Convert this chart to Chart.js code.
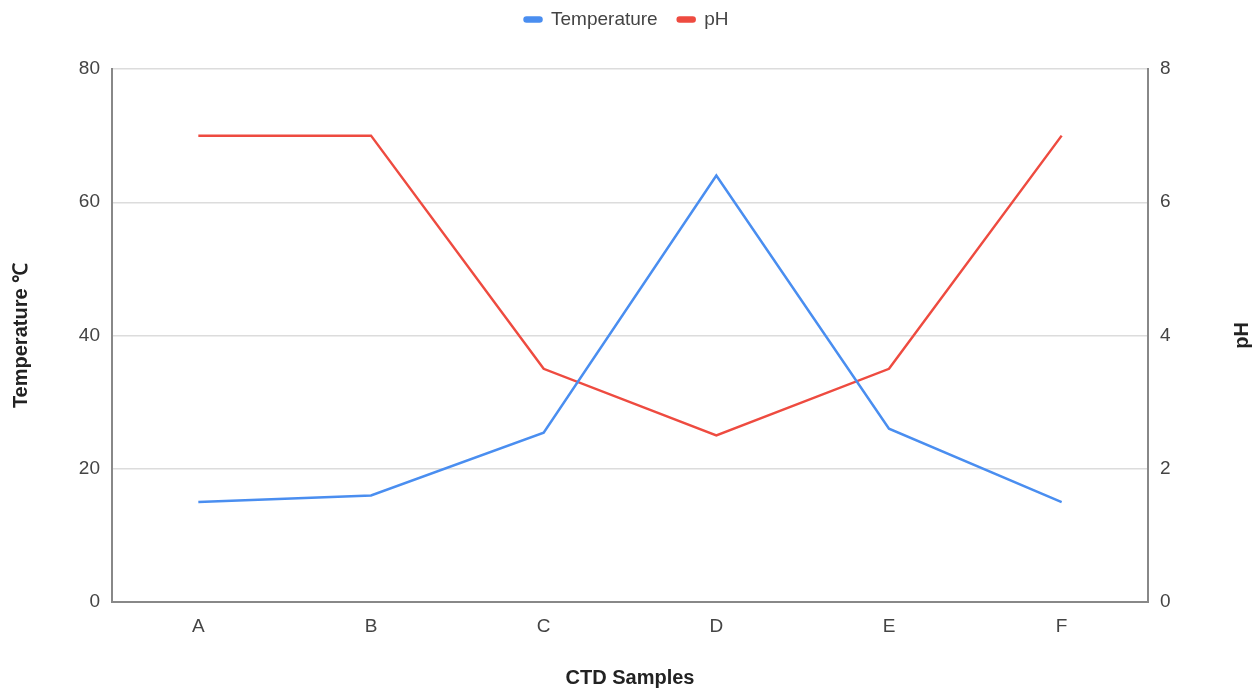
<!DOCTYPE html>
<html>
<head>
<meta charset="utf-8">
<script src="https://cdn.jsdelivr.net/npm/chart.js@4/dist/chart.umd.min.js"></script>
<style>
    html, body { margin: 0; padding: 0; background: #fff; }
    #wrap { width: 1253px; height: 690px; }
</style>
</head>
<body>
<div id="wrap"><canvas id="ctdChart"></canvas></div>
<script>
const samples = ['A', 'B', 'C', 'D', 'E', 'F'];
const temperature = [15, 16, 25.4, 64, 26, 15];
const ph = [7, 7, 3.5, 2.5, 3.5, 7];
const tempTicks = [0, 20, 40, 60, 80];
const phTicks = [0, 2, 4, 6, 8];

const blue = '#4a8ef0';
const red = '#ee4b40';
const family = '"Liberation Sans", Arial, sans-serif';
const axisFont = { family: family, size: 19 };
const legendFont = { family: family, size: 19 };
const titleFont = { family: family, size: 20, weight: 'bold' };

function fixWidth(w) {
    return function(scale) { scale.width = w; };
}

// extra space under the legend, like the reference
const legendGap = {
    id: 'legendGap',
    beforeUpdate(chart) {
        if (chart.legend && !chart.legend._gapPatched) {
            const fit = chart.legend.fit;
            chart.legend.fit = function() {
                fit.call(this);
                this.height += 30;
            };
            chart.legend._gapPatched = true;
        }
    }
};

// right axis title reads bottom-to-top
const rightTitle = {
    id: 'rightTitle',
    afterDraw(chart) {
        const ctx = chart.ctx;
        const area = chart.chartArea;
        ctx.save();
        ctx.translate(1242, (area.top + area.bottom) / 2);
        ctx.rotate(-Math.PI / 2);
        ctx.font = 'bold 20px ' + family;
        ctx.fillStyle = '#222';
        ctx.textAlign = 'center';
        ctx.textBaseline = 'middle';
        ctx.fillText('pH', 0, 0);
        ctx.restore();
    }
};

window.onload = function() {
    const canvas = document.getElementById('ctdChart');
    new Chart(canvas.getContext('2d'), {
        type: 'line',
        data: {
            labels: samples,
            datasets: [{
                label: 'Temperature',
                data: temperature,
                borderColor: blue,
                backgroundColor: blue,
                borderWidth: 2.5,
                pointRadius: 0,
                tension: 0,
                yAxisID: 'y'
            }, {
                label: 'pH',
                data: ph,
                borderColor: red,
                backgroundColor: red,
                borderWidth: 2.5,
                pointRadius: 0,
                tension: 0,
                yAxisID: 'y1'
            }]
        },
        options: {
            responsive: true,
            maintainAspectRatio: false,
            animation: false,
            layout: { padding: { top: -10, left: 0, right: 0, bottom: 0 } },
            plugins: {
                legend: {
                    position: 'top',
                    labels: {
                        boxWidth: 17,
                        boxHeight: 4,
                        useBorderRadius: true,
                        borderRadius: 2,
                        color: '#444',
                        font: legendFont,
                        padding: 20
                    }
                },
                tooltip: { enabled: false }
            },
            scales: {
                x: {
                    offset: true,
                    grid: { display: false, drawTicks: false },
                    border: { color: '#888', width: 2 },
                    ticks: { color: '#444', font: axisFont, padding: 13 },
                    title: {
                        display: true,
                        text: 'CTD Samples',
                        color: '#222',
                        font: titleFont,
                        padding: { top: 24, bottom: 0 }
                    },
                    afterFit: function(scale) { scale.height = 88; }
                },
                y: {
                    position: 'left',
                    min: 0,
                    max: 80,
                    afterBuildTicks: function(scale) {
                        scale.ticks = tempTicks.map(v => ({ value: v }));
                    },
                    grid: { color: '#dcdcdc', lineWidth: 1.5, drawTicks: false },
                    border: { color: '#888', width: 2 },
                    ticks: { color: '#444', font: axisFont, padding: 12 },
                    title: {
                        display: true,
                        text: 'Temperature ℃',
                        color: '#222',
                        font: titleFont,
                        padding: { top: 9, bottom: 0 }
                    },
                    afterFit: fixWidth(112)
                },
                y1: {
                    position: 'right',
                    min: 0,
                    max: 8,
                    afterBuildTicks: function(scale) {
                        scale.ticks = phTicks.map(v => ({ value: v }));
                    },
                    grid: { display: false, drawTicks: false },
                    border: { color: '#888', width: 2 },
                    ticks: { color: '#444', font: axisFont, padding: 12 },
                    afterFit: fixWidth(105)
                }
            }
        },
        plugins: [legendGap, rightTitle]
    });
};
</script>
</body>
</html>
